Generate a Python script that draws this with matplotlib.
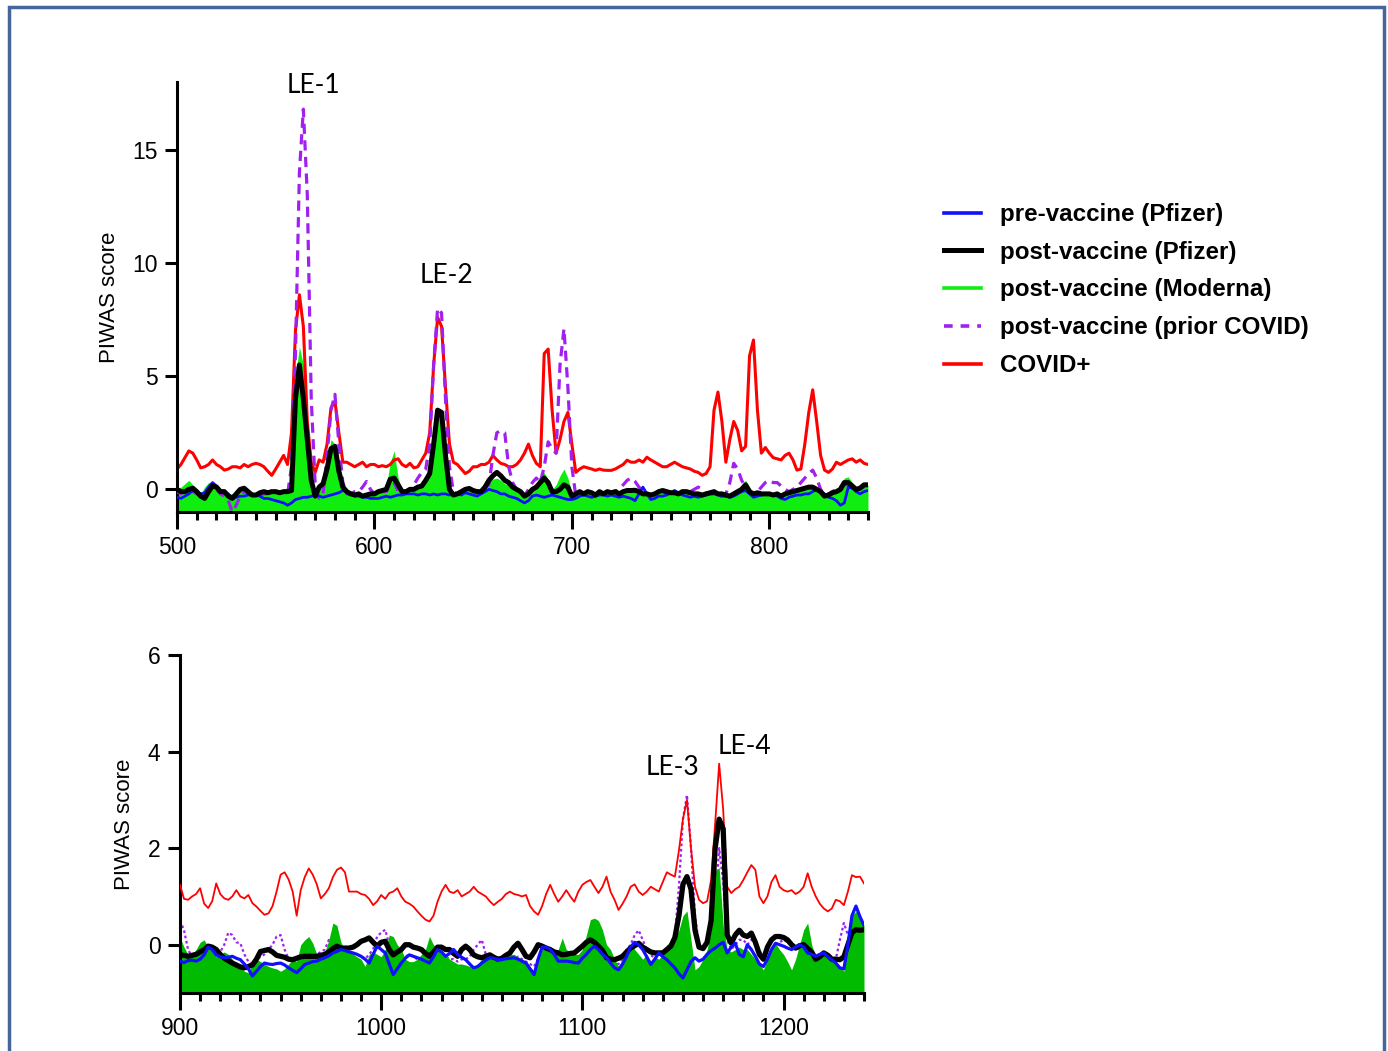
import numpy as np
import matplotlib
matplotlib.use("Agg")
import matplotlib.pyplot as plt
from matplotlib.lines import Line2D
from matplotlib.patches import Rectangle
from matplotlib.ticker import MultipleLocator

# ---------------- data: top panel (residues 500-850, step 2) ----------------
x_top = np.arange(500, 851, 2)

covid_top = [
    0.9, 1.1, 1.4, 1.7, 1.6, 1.3, 0.95, 1.0, 1.1, 1.3,
    1.1, 1.0, 0.85, 0.9, 1.0, 1.0, 0.95, 1.1, 1.0, 1.1,
    1.15, 1.1, 1.0, 0.8, 0.62, 0.9, 1.2, 1.5, 1.1, 2.5,
    7.0, 8.6, 7.2, 3.0, 1.2, 0.75, 1.3, 1.2, 2.0, 3.6,
    3.9, 2.5, 1.2, 1.2, 1.1, 1.0, 1.1, 1.2, 1.0, 1.1,
    1.1, 1.0, 1.05, 1.0, 1.1, 1.3, 1.35, 1.1, 1.0, 1.15,
    0.95, 1.0, 1.3, 1.6, 2.5, 5.5, 7.6, 7.2, 4.5, 2.0,
    1.2, 1.1, 0.9, 0.7, 0.8, 1.0, 1.0, 1.1, 1.1, 1.2,
    1.5, 1.3, 1.15, 1.1, 1.0, 1.0, 1.1, 1.3, 1.6, 2.0,
    1.5, 1.15, 1.0, 6.0, 6.2, 3.5, 1.6, 2.2, 3.0, 3.4,
    2.0, 0.75, 0.9, 1.0, 0.95, 0.9, 0.84, 0.9, 0.85, 0.84,
    0.84, 0.9, 1.0, 1.1, 1.29, 1.2, 1.2, 1.3, 1.2, 1.42,
    1.3, 1.2, 1.1, 1.0, 1.0, 1.1, 1.2, 1.1, 1.0, 0.95,
    0.9, 0.8, 0.75, 0.62, 0.7, 1.0, 3.5, 4.3, 3.0, 1.2,
    2.2, 3.0, 2.6, 1.7, 1.9, 5.9, 6.6, 3.5, 1.6, 1.85,
    1.6, 1.4, 1.35, 1.3, 1.5, 1.6, 1.3, 0.85, 0.9, 2.0,
    3.4, 4.4, 3.0, 1.5, 0.85, 0.75, 0.9, 1.2, 1.1, 1.2,
    1.3, 1.35, 1.2, 1.3, 1.15, 1.1]

post_pfizer_top = [
    0.0, -0.1, -0.1, 0.0, 0.05, -0.1, -0.3, -0.4, -0.1, 0.15,
    0.1, -0.1, -0.1, -0.3, -0.4, -0.2, 0.0, 0.05, -0.1, -0.25,
    -0.25, -0.15, -0.1, -0.15, -0.1, -0.1, -0.15, -0.1, -0.1, -0.05,
    4.0, 5.5, 4.0, 2.2, 0.4, -0.3, 0.1, 0.25, 0.9, 1.8,
    1.9, 0.8, 0.1, -0.1, -0.2, -0.25, -0.2, -0.3, -0.25, -0.2,
    -0.2, -0.1, -0.05, 0.0, 0.45, 0.5, 0.2, -0.1, -0.1, 0.0,
    0.0, 0.1, 0.15, 0.4, 0.7, 2.0, 3.5, 3.4, 1.5, 0.0,
    -0.25, -0.2, -0.1, 0.0, 0.04, -0.05, -0.1, -0.1, 0.1, 0.4,
    0.6, 0.75, 0.6, 0.4, 0.3, 0.1, 0.0, -0.1, -0.3, -0.2,
    0.0, 0.1, 0.3, 0.5, 0.3, -0.1, -0.1, 0.0, 0.2, 0.1,
    -0.3, -0.2, -0.1, -0.2, -0.1, -0.15, -0.25, -0.1, -0.2, -0.1,
    -0.15, -0.1, -0.2, -0.1, -0.05, -0.05, -0.04, -0.1, -0.2, -0.2,
    -0.25, -0.2, -0.1, -0.05, -0.1, -0.15, -0.15, -0.2, -0.1, -0.1,
    -0.15, -0.2, -0.2, -0.25, -0.2, -0.15, -0.1, -0.2, -0.2, -0.25,
    -0.3, -0.2, -0.1, 0.0, 0.2, -0.1, -0.2, -0.15, -0.2, -0.2,
    -0.2, -0.25, -0.2, -0.3, -0.2, -0.15, -0.1, -0.05, 0.0, 0.05,
    0.1, 0.1, 0.0, -0.1, -0.3, -0.25, -0.15, -0.1, 0.0, 0.3,
    0.3, 0.15, 0.0, 0.05, 0.2, 0.2]

pre_pfizer_top = [
    -0.35, -0.4, -0.3, -0.2, -0.05, -0.1, -0.2, -0.15, 0.1, 0.3,
    0.15, -0.05, -0.1, -0.2, -0.4, -0.35, -0.3, -0.3, -0.25, -0.2,
    -0.25, -0.3, -0.4, -0.4, -0.45, -0.5, -0.55, -0.6, -0.7, -0.6,
    -0.45, -0.4, -0.35, -0.35, -0.3, -0.25, -0.3, -0.35, -0.3, -0.25,
    -0.2, -0.15, -0.05, -0.1, -0.2, -0.3, -0.3, -0.35, -0.35, -0.4,
    -0.4, -0.4, -0.35, -0.3, -0.35, -0.3, -0.25, -0.25, -0.2, -0.2,
    -0.2, -0.25, -0.2, -0.2, -0.25, -0.2, -0.25, -0.2, -0.2, -0.25,
    -0.2, -0.2, -0.25, -0.15, -0.2, -0.25, -0.3, -0.2, -0.1, 0.0,
    -0.05, -0.1, -0.2, -0.2, -0.3, -0.35, -0.4, -0.5, -0.6, -0.5,
    -0.3, -0.25, -0.3, -0.35, -0.3, -0.25, -0.3, -0.35, -0.4, -0.45,
    -0.45, -0.4, -0.3, -0.25, -0.3, -0.35, -0.3, -0.25, -0.25, -0.3,
    -0.25, -0.3, -0.35, -0.3, -0.35, -0.4, -0.5, -0.2, 0.1, -0.2,
    -0.45, -0.4, -0.3, -0.3, -0.25, -0.15, -0.05, -0.15, -0.25, -0.3,
    -0.35, -0.3, -0.35, -0.3, -0.25, -0.2, -0.2, -0.25, -0.3, -0.3,
    -0.35, -0.3, -0.2, -0.1, -0.05, -0.2, -0.35, -0.3, -0.25, -0.2,
    -0.2, -0.25, -0.3, -0.4, -0.45, -0.35, -0.3, -0.25, -0.25, -0.2,
    -0.2, -0.1, 0.0, -0.1, -0.2, -0.35, -0.4, -0.5, -0.7, -0.6,
    0.1, 0.05, -0.1, -0.2, -0.1, -0.05]

moderna_top = [
    0.0, 0.1, 0.25, 0.4, 0.2, 0.0, -0.2, 0.1, 0.3, 0.3,
    0.1, 0.0, -0.1, -0.2, -0.2, -0.1, 0.05, 0.0, -0.1, -0.2,
    -0.15, -0.1, -0.1, -0.15, -0.1, -0.1, -0.1, -0.05, -0.05, 0.0,
    5.0, 6.3, 5.5, 3.0, 0.6, -0.2, 0.2, 0.4, 1.2, 2.2,
    2.0, 1.0, 0.2, -0.05, -0.1, -0.2, -0.2, -0.25, -0.2, -0.2,
    -0.15, -0.1, -0.05, 0.1, 1.2, 1.7, 0.5, -0.05, -0.1, 0.0,
    0.05, 0.1, 0.2, 0.4, 0.8, 2.2, 3.4, 3.3, 1.6, 0.1,
    -0.2, -0.2, -0.1, 0.0, 0.05, 0.0, -0.05, 0.0, 0.15, 0.35,
    0.45, 0.5, 0.4, 0.25, 0.2, 0.1, 0.0, -0.1, -0.3, -0.2,
    0.1, 0.3, 0.6, 0.75, 0.4, 0.0, 0.2, 0.6, 0.9, 0.5,
    -0.2, -0.15, -0.1, -0.15, -0.1, -0.1, -0.2, -0.05, -0.15, -0.1,
    -0.1, -0.1, -0.15, -0.1, -0.05, 0.0, 0.0, -0.05, -0.1, -0.15,
    -0.2, -0.15, -0.1, -0.05, -0.1, -0.1, -0.1, -0.15, -0.1, -0.1,
    -0.1, -0.15, -0.15, -0.2, -0.15, -0.1, -0.1, -0.15, -0.15, -0.2,
    -0.2, -0.1, 0.0, 0.2, 0.4, 0.1, -0.15, -0.1, -0.15, -0.15,
    -0.15, -0.2, -0.15, -0.25, -0.15, -0.1, -0.05, 0.0, 0.05, 0.1,
    0.15, 0.1, 0.0, -0.05, -0.2, -0.15, -0.1, 0.0, 0.2, 0.5,
    0.55, 0.3, 0.1, 0.1, 0.15, 0.2]

prior_covid_top = [
    -0.1, -0.2, 0.0, 0.1, -0.1, -0.2, -0.3, -0.2, 0.0, 0.1,
    0.0, -0.2, -0.3, -0.5, -1.0, -0.7, -0.3, -0.1, -0.2, -0.3,
    -0.2, -0.25, -0.2, -0.2, -0.15, -0.1, -0.1, -0.15, -0.2, 1.0,
    6.0, 14.0, 16.8, 13.0, 4.0, 0.2, -0.4, -0.2, 1.5, 3.5,
    4.2, 2.0, 0.3, -0.2, -0.2, -0.1, -0.1, 0.1, 0.35, 0.0,
    -0.2, -0.2, -0.1, -0.1, 0.3, 0.3, -0.1, -0.2, -0.1, 0.0,
    0.2, 0.5, 0.75, 0.9, 2.0, 5.5, 8.0, 7.8, 4.0, 1.0,
    -0.1, -0.2, -0.15, -0.1, 0.0, -0.1, -0.1, 0.0, 0.1, 0.2,
    1.5, 2.5, 2.6, 2.5, 1.0, 0.3, 0.0, -0.2, -0.3, 0.0,
    0.3, 0.5, 0.3, 1.0, 2.1, 1.8, 1.6, 5.5, 7.1, 4.5,
    1.0, -0.3, -0.2, -0.2, -0.1, -0.2, -0.3, -0.2, -0.2, -0.1,
    -0.2, -0.1, 0.0, 0.2, 0.4, 0.5, 0.35, 0.1, -0.1, -0.2,
    -0.3, -0.2, -0.1, -0.1, -0.2, -0.2, -0.1, -0.2, -0.1, -0.1,
    -0.1, 0.0, 0.1, 0.0, -0.2, -0.2, -0.2, -0.3, -0.3, -0.2,
    0.3, 1.15, 0.9, 0.4, 0.1, -0.1, -0.2, -0.1, 0.1, 0.3,
    0.4, 0.3, 0.3, 0.15, 0.0, -0.1, 0.0, 0.1, 0.3, 0.5,
    0.7, 0.85, 0.5, 0.0, -0.3, -0.2, -0.1, 0.0, 0.1, 0.2,
    0.2, 0.1, 0.0, 0.1, 0.1, 0.1]

# ---------------- data: bottom panel (residues 900-1240, step 2) ----------------
x_bot = np.arange(900, 1241, 2)

covid_bot = [
    1.24, 0.95, 0.93, 1.0, 1.05, 1.17, 0.85, 0.76, 0.9, 1.27,
    1.05, 0.96, 0.93, 1.0, 1.13, 1.0, 0.96, 1.03, 0.86, 0.79,
    0.7, 0.62, 0.65, 0.8, 1.1, 1.45, 1.5, 1.35, 1.1, 0.6,
    1.13, 1.4, 1.58, 1.45, 1.25, 0.96, 1.05, 1.17, 1.4, 1.55,
    1.6, 1.5, 1.1, 1.1, 1.1, 1.05, 1.03, 0.95, 0.82, 0.9,
    1.03, 0.95, 1.07, 1.1, 1.17, 1.0, 0.89, 0.85, 0.79, 0.69,
    0.6, 0.52, 0.48, 0.6, 0.89, 1.1, 1.24, 1.1, 1.07, 1.13,
    1.0, 1.05, 1.1, 1.2, 1.1, 1.05, 1.0, 0.9, 0.82, 0.89,
    0.95, 1.05, 1.1, 1.05, 1.03, 1.0, 1.03, 0.8, 0.69, 0.62,
    0.8, 1.05, 1.24, 1.05, 0.89, 1.0, 1.13, 1.0, 0.89, 1.1,
    1.24, 1.3, 1.34, 1.2, 1.07, 1.2, 1.41, 1.1, 0.93, 0.72,
    0.85, 1.0, 1.2, 1.25, 1.1, 1.03, 1.1, 1.2, 1.15, 1.1,
    1.3, 1.5, 1.45, 1.41, 1.95, 2.6, 3.0, 2.0, 1.2, 0.93,
    0.86, 0.9, 1.34, 2.5, 3.75, 2.8, 1.2, 1.07, 1.15, 1.2,
    1.34, 1.5, 1.65, 1.55, 1.0, 0.86, 1.0, 1.3, 1.44, 1.2,
    1.13, 1.1, 1.13, 1.05, 1.1, 1.2, 1.48, 1.2, 1.0, 0.85,
    0.75, 0.69, 0.75, 0.93, 0.9, 0.82, 1.1, 1.44, 1.4, 1.41,
    1.27]

post_pfizer_bot = [
    -0.21, -0.22, -0.24, -0.22, -0.2, -0.15, -0.1, -0.03, -0.05, -0.1,
    -0.2, -0.28, -0.33, -0.38, -0.42, -0.46, -0.48, -0.45, -0.42, -0.3,
    -0.14, -0.12, -0.1, -0.15, -0.22, -0.24, -0.26, -0.3, -0.31, -0.28,
    -0.25, -0.24, -0.24, -0.24, -0.24, -0.22, -0.2, -0.15, -0.08, -0.03,
    -0.07, -0.07, -0.07, -0.05, 0.0, 0.07, 0.1, 0.14, 0.05, -0.03,
    0.05, 0.07, -0.1, -0.21, -0.15, -0.1, 0.0, 0.0, -0.05, -0.07,
    -0.1, -0.18, -0.24, -0.15, -0.05, -0.05, -0.1, -0.1, -0.18, -0.24,
    -0.1, -0.03, -0.1, -0.21, -0.25, -0.27, -0.24, -0.21, -0.26, -0.3,
    -0.28, -0.22, -0.17, -0.05, 0.03, -0.1, -0.24, -0.27, -0.15, 0.0,
    -0.03, -0.07, -0.1, -0.15, -0.17, -0.21, -0.2, -0.18, -0.17, -0.1,
    -0.03, 0.05, 0.1, 0.05, -0.03, -0.12, -0.27, -0.3, -0.31, -0.28,
    -0.24, -0.15, -0.07, -0.02, 0.03, -0.05, -0.1, -0.15, -0.17, -0.17,
    -0.17, -0.1, -0.03, 0.15, 0.6, 1.25, 1.41, 1.15, 0.3, -0.05,
    -0.08, 0.05, 0.5, 2.0, 2.6, 2.4, 0.2, 0.03, 0.2, 0.3,
    0.2, 0.17, 0.24, 0.05, -0.2, -0.3, -0.05, 0.1, 0.17, 0.17,
    0.15, 0.1, 0.0, -0.07, -0.02, 0.0, -0.08, -0.15, -0.3, -0.25,
    -0.17, -0.22, -0.3, -0.3, -0.31, -0.25, 0.0, 0.25, 0.31, 0.3,
    0.31]

pre_pfizer_bot = [
    -0.34, -0.37, -0.33, -0.32, -0.34, -0.3, -0.21, -0.05, -0.1, -0.21,
    -0.25, -0.27, -0.26, -0.24, -0.28, -0.31, -0.4, -0.5, -0.65, -0.55,
    -0.45, -0.38, -0.4, -0.41, -0.39, -0.38, -0.42, -0.48, -0.53, -0.58,
    -0.5, -0.41, -0.38, -0.35, -0.34, -0.3, -0.27, -0.23, -0.17, -0.14,
    -0.1, -0.12, -0.15, -0.17, -0.2, -0.24, -0.3, -0.38, -0.2, -0.03,
    -0.1, -0.17, -0.4, -0.62, -0.5, -0.38, -0.28, -0.21, -0.24, -0.27,
    -0.3, -0.34, -0.38, -0.25, -0.1, -0.15, -0.24, -0.18, -0.1, -0.2,
    -0.26, -0.31, -0.4, -0.48, -0.45, -0.38, -0.32, -0.27, -0.28, -0.31,
    -0.31, -0.29, -0.28, -0.27, -0.3, -0.34, -0.38, -0.5, -0.62, -0.3,
    -0.05, -0.05, -0.1, -0.2, -0.34, -0.34, -0.34, -0.35, -0.37, -0.38,
    -0.28, -0.2, -0.1, -0.03, -0.1, -0.2, -0.27, -0.38, -0.48, -0.52,
    -0.4, -0.24, -0.05, 0.05, 0.0, -0.1, -0.25, -0.41, -0.3, -0.17,
    -0.25, -0.31, -0.4, -0.48, -0.6, -0.69, -0.52, -0.35, -0.27, -0.34,
    -0.3, -0.2, -0.12, -0.07, 0.0, 0.05, -0.17, -0.05, 0.03, -0.2,
    -0.25, 0.0, -0.1, -0.24, -0.4, -0.45, -0.3, -0.1, 0.03, 0.0,
    -0.03, -0.07, -0.1, -0.05, 0.0, -0.05, -0.17, -0.2, -0.24, -0.2,
    -0.17, -0.25, -0.31, -0.38, -0.48, -0.5, 0.0, 0.6, 0.8, 0.58,
    0.4]

moderna_bot = [
    0.15, -0.05, -0.2, -0.2, -0.1, 0.05, 0.1, -0.05, -0.1, -0.25,
    -0.2, -0.15, -0.2, -0.3, -0.42, -0.45, -0.55, -0.58, -0.4, -0.3,
    -0.35, -0.4, -0.45, -0.48, -0.5, -0.55, -0.5, -0.4, -0.3, -0.35,
    0.0, 0.1, 0.17, 0.03, -0.2, -0.3, -0.15, 0.1, 0.45, 0.4,
    0.05, -0.1, -0.15, -0.2, -0.25, -0.3, -0.45, -0.2, -0.15, -0.2,
    -0.25, -0.1, 0.2, 0.17, 0.0, -0.1, -0.3, -0.35, -0.35, -0.3,
    -0.2, -0.1, 0.17, 0.0, -0.1, -0.15, -0.2, -0.3, -0.35, -0.4,
    -0.4, -0.42, -0.45, -0.45, -0.4, -0.3, -0.2, -0.25, -0.3, -0.35,
    -0.3, -0.25, -0.2, -0.2, -0.25, -0.3, -0.35, -0.45, -0.55, -0.3,
    -0.1, -0.1, -0.15, -0.2, -0.1, 0.14, -0.1, -0.15, -0.2, -0.2,
    -0.1, 0.2, 0.52, 0.55, 0.5, 0.31, 0.0, -0.1, -0.3, -0.45,
    -0.3, -0.1, 0.03, -0.1, -0.2, -0.3, -0.2, -0.35, -0.25, -0.3,
    -0.2, 0.0, 0.05, 0.15, 0.3, 0.6, 0.7, 0.1, -0.52, -0.45,
    -0.3, -0.1, 0.3, 1.5, 1.6, 0.4, -0.1, -0.15, -0.1, -0.05,
    -0.1, -0.1, -0.2, -0.3, -0.4, -0.52, -0.3, -0.05, 0.03, -0.1,
    -0.2, -0.35, -0.52, -0.3, 0.0, 0.31, 0.45, 0.0, -0.3, -0.2,
    -0.2, -0.25, -0.3, -0.35, -0.45, -0.55, 0.1, 0.6, 0.69, 0.55,
    0.4]

prior_covid_bot = [
    0.5, 0.3, -0.1, -0.25, -0.3, -0.2, -0.15, -0.1, -0.15, -0.2,
    -0.15, 0.0, 0.25, 0.2, 0.05, 0.03, -0.2, -0.35, -0.4, -0.3,
    -0.25, -0.2, -0.1, 0.0, 0.17, 0.2, -0.1, -0.3, -0.35, -0.4,
    -0.3, -0.2, -0.15, -0.2, -0.2, -0.15, -0.1, 0.1, -0.05, -0.1,
    -0.1, -0.1, -0.15, -0.2, -0.2, -0.25, -0.3, -0.2, -0.1, 0.17,
    0.25, 0.31, 0.0, -0.3, -0.35, -0.3, -0.25, -0.2, -0.25, -0.3,
    -0.3, -0.35, -0.3, -0.2, -0.15, -0.2, -0.25, -0.3, -0.3, -0.35,
    -0.3, -0.3, -0.25, -0.1, 0.0, 0.1, -0.2, -0.3, -0.35, -0.35,
    -0.35, -0.3, -0.3, -0.3, -0.25, -0.3, -0.35, -0.4, -0.45, -0.3,
    -0.1, -0.1, -0.15, -0.2, -0.25, -0.2, -0.25, -0.3, -0.2, -0.07,
    -0.1, -0.05, 0.0, -0.05, -0.15, -0.25, -0.3, -0.35, -0.4, -0.4,
    -0.3, -0.1, 0.0, 0.2, 0.3, 0.1, -0.1, -0.2, -0.3, -0.2,
    -0.2, -0.1, 0.0, 0.17, 1.2, 2.6, 3.1, 2.0, 0.6, 0.0,
    -0.1, 0.0, 0.3, 0.8, 2.0, 1.3, 0.1, -0.1, 0.0, 0.1,
    0.1, 0.0, 0.1, 0.05, -0.1, -0.3, -0.35, -0.2, 0.0, 0.05,
    0.1, 0.05, 0.0, -0.05, -0.1, -0.05, -0.1, -0.2, -0.25, -0.2,
    -0.15, -0.2, -0.25, -0.3, 0.1, 0.45, 0.2, 0.3, 0.5, 0.4,
    0.3]

legend_labels = ["pre-vaccine (Pfizer)", "post-vaccine (Pfizer)",
                 "post-vaccine (Moderna)", "post-vaccine (prior COVID)", "COVID+"]

# ---------------- styling ----------------
RED = "#ff0000"
BLUE = "#1010ff"
PURPLE = "#a020f0"
LIME = "#10ee10"
DKGREEN = "#00bb00"
TICKFONT = "Liberation Sans"

plt.rcParams["font.family"] = ["Liberation Sans", "DejaVu Sans"]

fig = plt.figure(figsize=(13.88, 10.51), dpi=100)

# outer frame
fig.patches.append(Rectangle((9 / 1388, -0.05), (1384 - 9) / 1388, 1.05 - 7 / 1051,
                             transform=fig.transFigure, fill=False,
                             edgecolor="#46659a", linewidth=2.5, zorder=0))

ax1 = fig.add_axes([177 / 1388, 1 - 512 / 1051, (868 - 177) / 1388, (512 - 82) / 1051])
ax2 = fig.add_axes([180 / 1388, 1 - 993 / 1051, (864 - 180) / 1388, (993 - 655) / 1051])


def style_axis(ax, xlim, ylim, xmaj, ymaj, ylabel, lab_x):
    ax.set_xlim(*xlim)
    ax.set_ylim(*ylim)
    for s in ("top", "right"):
        ax.spines[s].set_visible(False)
    for s in ("left", "bottom"):
        ax.spines[s].set_linewidth(2.2)
        ax.spines[s].set_color("black")
    ax.xaxis.set_major_locator(MultipleLocator(xmaj))
    ax.xaxis.set_minor_locator(MultipleLocator(10))
    ax.yaxis.set_major_locator(MultipleLocator(ymaj))
    ax.tick_params(axis="both", which="major", direction="out", length=9, width=2.2,
                   labelsize=16.5, pad=5)
    ax.tick_params(axis="x", which="major", length=12)
    ax.tick_params(axis="x", which="minor", direction="out", length=6, width=2.2)
    for lab in ax.get_xticklabels() + ax.get_yticklabels():
        lab.set_fontfamily(TICKFONT)
    ax.set_ylabel(ylabel, fontsize=16, fontfamily=TICKFONT)
    ax.yaxis.set_label_coords(lab_x, 0.5)
    ax.patch.set_alpha(0)


# ---- top panel ----
ax1.fill_between(x_top, -1, moderna_top, color=LIME, linewidth=0, zorder=1)
ax1.plot(x_top, covid_top, color=RED, lw=2.2, zorder=2)
ax1.plot(x_top, prior_covid_top, color=PURPLE, lw=2.3, dashes=(3.2, 2.0), zorder=3)
ax1.plot(x_top, pre_pfizer_top, color=BLUE, lw=2.0, zorder=4)
ax1.plot(x_top, post_pfizer_top, color="black", lw=3.6, zorder=5)
style_axis(ax1, (500, 850), (-1, 18), 100, 5, "PIWAS score", -0.082)
ax1.set_yticks([0, 5, 10, 15])

# ---- bottom panel ----
ax2.plot(x_bot, prior_covid_bot, color=PURPLE, lw=1.6, dashes=(1.2, 1.2), zorder=1)
ax2.fill_between(x_bot, -1, moderna_bot, color=DKGREEN, linewidth=0, zorder=2)
ax2.plot(x_bot, covid_bot, color=RED, lw=1.3, zorder=3)
ax2.plot(x_bot, post_pfizer_bot, color="black", lw=3.8, zorder=4)
ax2.plot(x_bot, pre_pfizer_bot, color=BLUE, lw=2.3, zorder=5)
style_axis(ax2, (900, 1240), (-1, 6), 100, 2, "PIWAS score", -0.066)
ax2.set_yticks([0, 2, 4, 6])

# annotations
ann_font = dict(fontsize=19, fontfamily="Lato", ha="center", va="center")
ax1.text(569, 17.85, "LE-1", **ann_font)
ax1.text(636.5, 9.45, "LE-2", **ann_font)
ax2.text(1145, 3.67, "LE-3", **ann_font)
ax2.text(1180.5, 4.1, "LE-4", **ann_font)

# legend
handles = [
    Line2D([], [], color=BLUE, lw=2.6),
    Line2D([], [], color="black", lw=3.6),
    Line2D([], [], color=LIME, lw=2.6),
    Line2D([], [], color=PURPLE, lw=2.6, dashes=(2.4, 2.2)),
    Line2D([], [], color=RED, lw=2.6),
]
fig.legend(handles, legend_labels, loc="upper left",
           bbox_to_anchor=(944 / 1388, 1 - 203 / 1051), frameon=False,
           borderpad=0, borderaxespad=0, handlelength=1.55, handletextpad=0.75,
           labelspacing=0.61,
           prop=dict(family="Liberation Sans", weight="bold", size=17.4))

fig.savefig("out.png", dpi=100, facecolor="white")
